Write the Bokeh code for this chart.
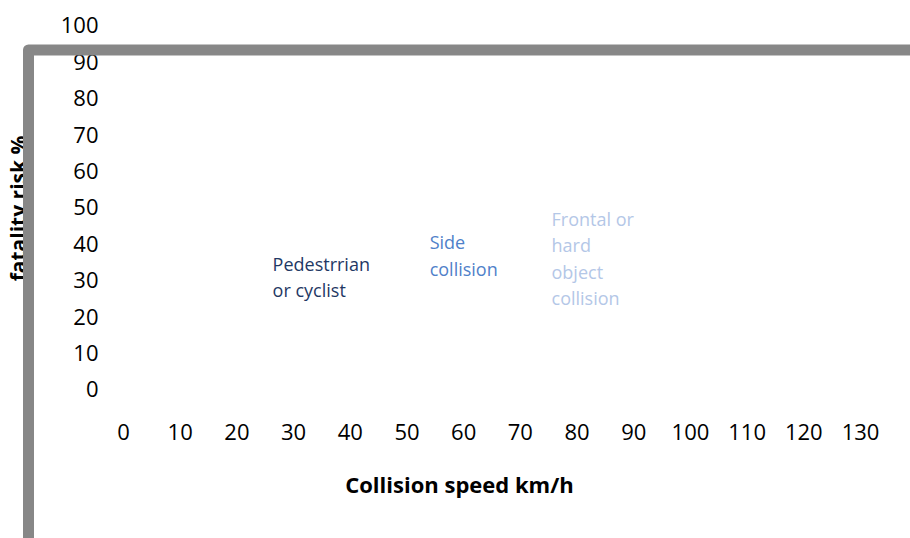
from bokeh.plotting import figure
from bokeh.models import BoxAnnotation, FixedTicker, ColumnDataSource, Range1d
from bokeh.core.properties import value
from bokeh.embed import file_html
from bokeh.resources import INLINE

# ---- data ----
speed_ticks = [0, 10, 20, 30, 40, 50, 60, 70, 80, 90, 100, 110, 120, 130]
risk_ticks = [0, 10, 20, 30, 40, 50, 60, 70, 80, 90, 100]

label_texts = ["Pedestrrian\nor cyclist", "Side\ncollision", "Frontal or\nhard\nobject\ncollision"]
label_speed = [26.3, 54.0, 75.5]
label_risk = [31.0, 36.8, 36.0]
label_colors = ["#1f3864", "#4f81c9", "#b4c7e7"]

# grey chart-area border (its left edge and top edge, in data units)
border_speed = -16.757
border_risk = 93.27

FONT = "Open Sans"
GREY = "#878787"

p = figure(width=910, height=538, output_backend="svg", toolbar_location=None, tools="",
           x_range=Range1d(-20.285, 138.82), y_range=Range1d(-7.418, 106.868),
           min_border_left=8, min_border_right=0, min_border_top=0, min_border_bottom=122,
           outline_line_color=None, background_fill_color="white", border_fill_color="white")

p.xgrid.visible = False
p.ygrid.visible = False

for ax in (p.xaxis, p.yaxis):
    ax.axis_line_color = None
    ax.major_tick_line_color = None
    ax.minor_tick_line_color = None
    ax.major_tick_out = 0
    ax.major_tick_in = 0
    ax.major_label_text_font = FONT
    ax.major_label_text_font_size = "22px"
    ax.major_label_text_color = "#000000"
    ax.axis_label_text_font = FONT
    ax.axis_label_text_font_style = "bold"
    ax.axis_label_text_color = "#000000"

# x axis: the border's left edge continues below the frame as a minor tick
p.xaxis.ticker = FixedTicker(ticks=speed_ticks, minor_ticks=[border_speed])
p.xaxis.minor_tick_line_color = GREY
p.xaxis.minor_tick_line_width = 11
p.xaxis.minor_tick_in = 2
p.xaxis.minor_tick_out = 125
p.xaxis.major_label_standoff = 7 - 125
p.xaxis.axis_label = "Collision speed km/h"
p.xaxis.axis_label_text_font_size = "22px"
p.xaxis.axis_label_standoff = 26

p.yaxis.ticker = FixedTicker(ticks=risk_ticks)
p.yaxis.major_label_standoff = -90
p.yaxis.axis_label = "fatality risk %"
p.yaxis.axis_label_text_font_size = "21px"
p.yaxis.axis_label_standoff = 26

src = ColumnDataSource(dict(x=label_speed, y=label_risk, text=label_texts, color=label_colors))
p.text(x="x", y="y", text="text", text_color="color", source=src,
       text_font=value(FONT), text_font_size="18px", text_align="left",
       text_baseline="middle", text_line_height=1.09)

# thick grey chart-area border (top and left edges visible)
frame_box = BoxAnnotation(left=border_speed, right=1000, top=border_risk, bottom=-1000,
                          fill_alpha=0, line_color=GREY, line_alpha=1.0, line_width=11,
                          line_join="round")
p.add_layout(frame_box)

open("out.html", "w").write(file_html(p, INLINE))
